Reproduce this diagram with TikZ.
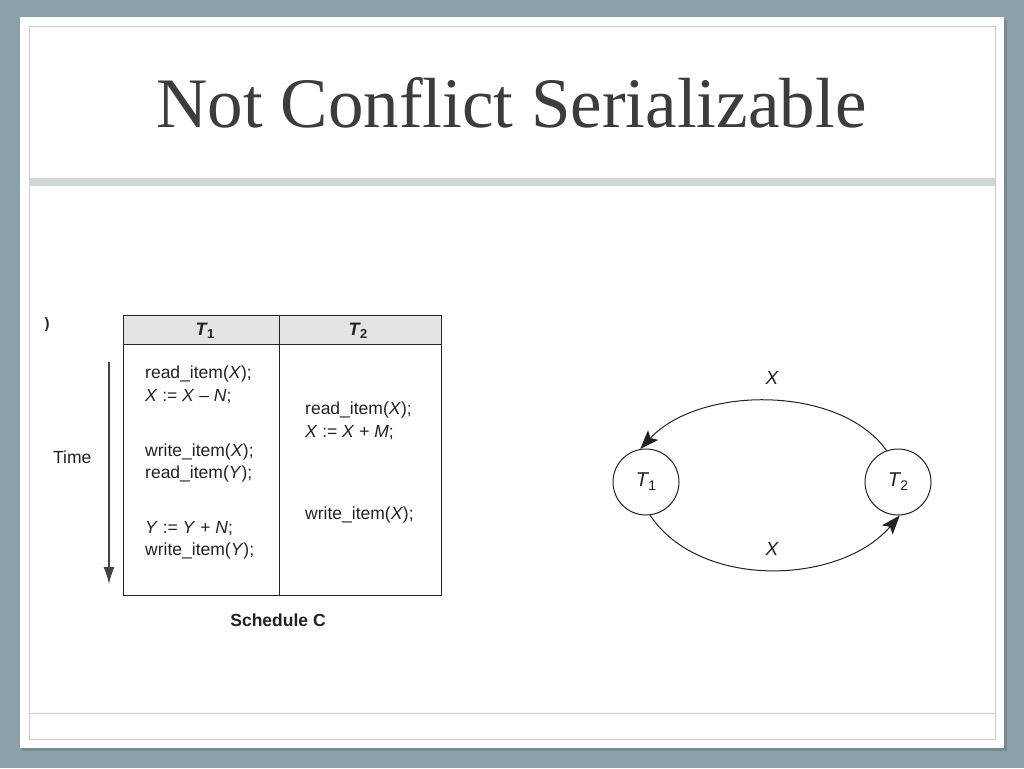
\documentclass[tikz,border=0pt]{standalone}
\usepackage{fontspec}
\setmainfont{Liberation Serif}
\newfontfamily\helv{Liberation Sans}
\usetikzlibrary{arrows.meta}
\definecolor{bgc}{HTML}{8AA1A9}
\definecolor{shadowc}{HTML}{6F8288}
\definecolor{framec}{HTML}{C9CBCB}
\definecolor{bandc}{HTML}{D0D5D7}
\definecolor{titlec}{HTML}{3C3C3C}
\definecolor{ink}{HTML}{222222}
\definecolor{hdrc}{HTML}{E4E4E4}
\newcommand\subup[1]{\kern0.5pt\raisebox{-4pt}{\fontsize{14}{16}\selectfont\upshape #1}}
\tikzset{
  tx/.style={font=\helv\fontsize{17.5}{20}\selectfont, anchor=west, inner sep=0pt, text=ink},
  hdr/.style={font=\helv\bfseries\itshape\fontsize{18}{20}\selectfont, inner sep=0pt, text=ink},
  tnode/.style={circle, draw=ink, line width=1pt, minimum size=66pt, inner sep=0pt,
    font=\helv\itshape\fontsize{20}{22}\selectfont, text=ink},
  edge/.style={draw=ink, line width=1pt, -{Stealth[length=19pt,width=14pt,inset=4pt]}},
  lbl/.style={font=\helv\itshape\fontsize{19}{22}\selectfont, text=ink, inner sep=0pt},
  tbl/.style={draw=ink, line width=1pt}
}
\begin{document}
\begin{tikzpicture}[x=1pt,y=-1pt]
\useasboundingbox (0,0) rectangle (1024,768);
% slide background
\fill[bgc] (0,0) rectangle (1024,768);
\fill[shadowc, opacity=0.7] (22,20) rectangle (1007,751);
\fill[white] (20,17) rectangle (1004,748);
\draw[framec, line width=0.8pt] (29,26) rectangle (995,739);
\fill[bandc] (29,178) rectangle (995,186);
\draw[framec, line width=0.8pt] (29,713) -- (995,713);
% title
\node[anchor=base, inner sep=0pt, text=titlec, font=\fontsize{71}{80}\selectfont] (title) at (511.5,127) {Not Conflict Serializable};
% stray mark
\node[inner sep=0pt, text=ink, font=\helv\bfseries\fontsize{15}{18}\selectfont] (stray) at (47,325) {)};
% table
\fill[hdrc] (123,315) rectangle (441,344);
\draw[tbl] (123,315) rectangle (441,595);
\draw[tbl] (123,344) -- (441,344);
\draw[tbl] (279,315) -- (279,595);
\node[hdr] (h1) at (205,331) {T\kern0.5pt\raisebox{-3.5pt}{\fontsize{13}{14}\selectfont\upshape 1}};
\node[hdr] (h2) at (358,331) {T\kern0.5pt\raisebox{-3.5pt}{\fontsize{13}{14}\selectfont\upshape 2}};
% T1 column
\node[tx] (a1) at (145,374) {read\_item(\textit{X});};
\node[tx] (a2) at (145,397) {\textit{X} := \textit{X} – \textit{N};};
\node[tx] (a3) at (145,452) {write\_item(\textit{X});};
\node[tx] (a4) at (145,474) {read\_item(\textit{Y});};
\node[tx] (a5) at (145,529) {\textit{Y} := \textit{Y} + \textit{N};};
\node[tx] (a6) at (145,551) {write\_item(\textit{Y});};
% T2 column
\node[tx] (b1) at (305,410) {read\_item(\textit{X});};
\node[tx] (b2) at (305,433) {\textit{X} := \textit{X} + \textit{M};};
\node[tx] (b3) at (305,515) {write\_item(\textit{X});};
% time
\node[tx] (time) at (53,457) {Time};
\coordinate (ta) at (109,362);
\coordinate (tb) at (109,584);
\draw[draw=ink!85, line width=1.3pt, -{Latex[length=17pt,width=11pt]}] (ta) -- (tb);
\node[font=\helv\bfseries\fontsize{17.5}{20}\selectfont, text=ink, inner sep=0pt] (sched) at (278,620) {Schedule C};
% graph
\node[tnode] (T1) at (646,482) {T\subup{1}};
\node[tnode] (T2) at (898,482) {T\subup{2}};
\draw[edge] (T2.110) .. controls (840,385) and (700,385) .. (T1.100);
\draw[edge] (T1.-83) .. controls (700,590) and (840,585) .. (T2.-87);
\node[lbl] (xt) at (772,378) {X};
\node[lbl] (xb) at (772,549) {X};
\end{tikzpicture}
\end{document}
